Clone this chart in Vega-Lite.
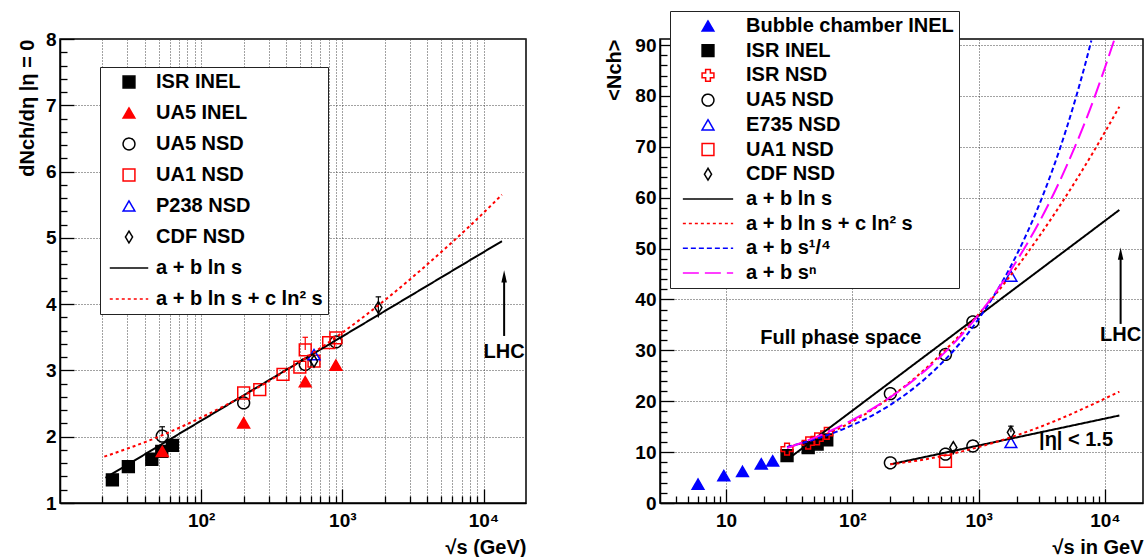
{
  "$schema": "https://vega.github.io/schema/vega-lite/v6.json",
  "padding": {"left": 16, "top": 9, "right": 2, "bottom": 2},
  "config": {
    "font": "Liberation Sans",
    "view": {"stroke": "#000", "strokeWidth": 1.5},
    "axis": {
      "domainColor": "#000", "domainWidth": 1.5,
      "tickColor": "#000", "tickWidth": 1.3,
      "labelFont": "Liberation Sans", "labelFontSize": 19, "labelFontWeight": "bold", "labelColor": "#000",
      "titleFont": "Liberation Sans", "titleFontSize": 20, "titleFontWeight": "bold", "titleColor": "#000",
      "gridColor": "#444", "gridDash": [1, 2], "gridWidth": 1,
      "labelOverlap": false, "labelFlush": false, "labelBound": false
    },
    "text": {"font": "Liberation Sans"}
  },
  "datasets": {
    "ptsL": [
      {"x": 23.5, "y": 1.35, "series": "ISR INEL"},
      {"x": 30.5, "y": 1.55, "series": "ISR INEL"},
      {"x": 44.7, "y": 1.66, "series": "ISR INEL"},
      {"x": 52.6, "y": 1.78, "series": "ISR INEL"},
      {"x": 62.5, "y": 1.87, "series": "ISR INEL"},
      {"x": 53, "y": 2.01, "series": "UA5 NSD"},
      {"x": 200, "y": 2.51, "series": "UA5 NSD"},
      {"x": 546, "y": 3.09, "series": "UA5 NSD"},
      {"x": 900, "y": 3.43, "series": "UA5 NSD"},
      {"x": 200, "y": 2.66, "series": "UA1 NSD"},
      {"x": 260, "y": 2.71, "series": "UA1 NSD"},
      {"x": 380, "y": 2.94, "series": "UA1 NSD"},
      {"x": 500, "y": 3.05, "series": "UA1 NSD"},
      {"x": 546, "y": 3.31, "series": "UA1 NSD"},
      {"x": 630, "y": 3.14, "series": "UA1 NSD"},
      {"x": 800, "y": 3.42, "series": "UA1 NSD"},
      {"x": 900, "y": 3.49, "series": "UA1 NSD"},
      {"x": 630, "y": 3.24, "series": "P238 NSD"},
      {"x": 630, "y": 3.14, "series": "CDF NSD"},
      {"x": 1800, "y": 3.95, "series": "CDF NSD"},
      {"x": 53, "y": 1.78, "series": "UA5 INEL"},
      {"x": 200, "y": 2.21, "series": "UA5 INEL"},
      {"x": 546, "y": 2.83, "series": "UA5 INEL"},
      {"x": 900, "y": 3.08, "series": "UA5 INEL"}
    ],
    "errL": [
      {"x": 53, "y": 2.01, "y2": 2.15, "series": "UA5 NSD"},
      {"x": 546, "y": 3.31, "y2": 3.5, "series": "UA1 NSD"},
      {"x": 1800, "y": 3.8, "y2": 4.11, "series": "CDF NSD"}
    ],
    "fitL": [
      {"x": 21, "y": 1.38, "series": "a + b ln s"},
      {"x": 13500, "y": 4.95, "series": "a + b ln s"},
      {"x": 20.6, "y": 1.7, "series": "a + b ln s + c ln² s"},
      {"x": 30, "y": 1.82, "series": "a + b ln s + c ln² s"},
      {"x": 50, "y": 2.0, "series": "a + b ln s + c ln² s"},
      {"x": 100, "y": 2.29, "series": "a + b ln s + c ln² s"},
      {"x": 200, "y": 2.62, "series": "a + b ln s + c ln² s"},
      {"x": 400, "y": 3.0, "series": "a + b ln s + c ln² s"},
      {"x": 1000, "y": 3.57, "series": "a + b ln s + c ln² s"},
      {"x": 2000, "y": 4.06, "series": "a + b ln s + c ln² s"},
      {"x": 4000, "y": 4.6, "series": "a + b ln s + c ln² s"},
      {"x": 8000, "y": 5.18, "series": "a + b ln s + c ln² s"},
      {"x": 13500, "y": 5.65, "series": "a + b ln s + c ln² s"}
    ],
    "annL": [
      {"x": 14000, "y": 3.52, "y2": 4.42, "ty": 3.28, "label": "LHC"}
    ],
    "ptsR": [
      {"x": 6, "y": 3.7, "series": "Bubble chamber INEL"},
      {"x": 9.6, "y": 5.4, "series": "Bubble chamber INEL"},
      {"x": 13.5, "y": 6.2, "series": "Bubble chamber INEL"},
      {"x": 19, "y": 7.7, "series": "Bubble chamber INEL"},
      {"x": 23.4, "y": 8.3, "series": "Bubble chamber INEL"},
      {"x": 30.4, "y": 9.3, "series": "ISR INEL"},
      {"x": 44.7, "y": 10.9, "series": "ISR INEL"},
      {"x": 52.6, "y": 11.6, "series": "ISR INEL"},
      {"x": 62.7, "y": 12.4, "series": "ISR INEL"},
      {"x": 30.4, "y": 10.6, "series": "ISR NSD"},
      {"x": 44.7, "y": 11.8, "series": "ISR NSD"},
      {"x": 52.6, "y": 12.6, "series": "ISR NSD"},
      {"x": 62.7, "y": 13.7, "series": "ISR NSD"},
      {"x": 200, "y": 21.5, "series": "UA5 NSD"},
      {"x": 546, "y": 29.2, "series": "UA5 NSD"},
      {"x": 900, "y": 35.6, "series": "UA5 NSD"},
      {"x": 200, "y": 7.9, "series": "UA5 NSD"},
      {"x": 546, "y": 9.6, "series": "UA5 NSD"},
      {"x": 900, "y": 11.2, "series": "UA5 NSD"},
      {"x": 1800, "y": 44.6, "series": "E735 NSD"},
      {"x": 1800, "y": 11.9, "series": "E735 NSD"},
      {"x": 546, "y": 8.2, "series": "UA1 NSD"},
      {"x": 630, "y": 10.9, "series": "CDF NSD"},
      {"x": 1800, "y": 13.9, "series": "CDF NSD"}
    ],
    "errR": [
      {"x": 1800, "y": 13.9, "y2": 15.1, "series": "CDF NSD"}
    ],
    "fitR": [
      {"x": 30.4, "y": 8.5, "series": "a + b ln s", "grp": "full"},
      {"x": 13000, "y": 57.6, "series": "a + b ln s", "grp": "full"},
      {"x": 200, "y": 7.6, "series": "a + b ln s", "grp": "eta"},
      {"x": 13000, "y": 17.2, "series": "a + b ln s", "grp": "eta"},
      {"x": 30.4, "y": 10.9, "series": "a + b ln s + c ln² s", "grp": "full"},
      {"x": 50, "y": 12.6, "series": "a + b ln s + c ln² s", "grp": "full"},
      {"x": 100, "y": 16.0, "series": "a + b ln s + c ln² s", "grp": "full"},
      {"x": 200, "y": 20.8, "series": "a + b ln s + c ln² s", "grp": "full"},
      {"x": 400, "y": 26.9, "series": "a + b ln s + c ln² s", "grp": "full"},
      {"x": 1000, "y": 37.1, "series": "a + b ln s + c ln² s", "grp": "full"},
      {"x": 2000, "y": 46.3, "series": "a + b ln s + c ln² s", "grp": "full"},
      {"x": 4000, "y": 56.9, "series": "a + b ln s + c ln² s", "grp": "full"},
      {"x": 8000, "y": 68.8, "series": "a + b ln s + c ln² s", "grp": "full"},
      {"x": 13000, "y": 77.9, "series": "a + b ln s + c ln² s", "grp": "full"},
      {"x": 200, "y": 7.6, "series": "a + b ln s + c ln² s", "grp": "eta"},
      {"x": 400, "y": 8.7, "series": "a + b ln s + c ln² s", "grp": "eta"},
      {"x": 1000, "y": 11.0, "series": "a + b ln s + c ln² s", "grp": "eta"},
      {"x": 2000, "y": 13.3, "series": "a + b ln s + c ln² s", "grp": "eta"},
      {"x": 4000, "y": 16.1, "series": "a + b ln s + c ln² s", "grp": "eta"},
      {"x": 8000, "y": 19.4, "series": "a + b ln s + c ln² s", "grp": "eta"},
      {"x": 13000, "y": 21.9, "series": "a + b ln s + c ln² s", "grp": "eta"},
      {"x": 30.4, "y": 11.0, "series": "a + b s¹/⁴", "grp": "full"},
      {"x": 50, "y": 12.5, "series": "a + b s¹/⁴", "grp": "full"},
      {"x": 100, "y": 15.3, "series": "a + b s¹/⁴", "grp": "full"},
      {"x": 200, "y": 19.3, "series": "a + b s¹/⁴", "grp": "full"},
      {"x": 400, "y": 25.0, "series": "a + b s¹/⁴", "grp": "full"},
      {"x": 700, "y": 31.2, "series": "a + b s¹/⁴", "grp": "full"},
      {"x": 1000, "y": 36.2, "series": "a + b s¹/⁴", "grp": "full"},
      {"x": 2000, "y": 48.8, "series": "a + b s¹/⁴", "grp": "full"},
      {"x": 3000, "y": 58.5, "series": "a + b s¹/⁴", "grp": "full"},
      {"x": 5000, "y": 73.9, "series": "a + b s¹/⁴", "grp": "full"},
      {"x": 7000, "y": 86.4, "series": "a + b s¹/⁴", "grp": "full"},
      {"x": 7800, "y": 90.9, "series": "a + b s¹/⁴", "grp": "full"},
      {"x": 30.4, "y": 10.8, "series": "a + b sⁿ", "grp": "full"},
      {"x": 50, "y": 12.8, "series": "a + b sⁿ", "grp": "full"},
      {"x": 100, "y": 16.3, "series": "a + b sⁿ", "grp": "full"},
      {"x": 200, "y": 20.8, "series": "a + b sⁿ", "grp": "full"},
      {"x": 400, "y": 26.6, "series": "a + b sⁿ", "grp": "full"},
      {"x": 700, "y": 32.5, "series": "a + b sⁿ", "grp": "full"},
      {"x": 1000, "y": 37.0, "series": "a + b sⁿ", "grp": "full"},
      {"x": 2000, "y": 47.6, "series": "a + b sⁿ", "grp": "full"},
      {"x": 3000, "y": 55.1, "series": "a + b sⁿ", "grp": "full"},
      {"x": 5000, "y": 66.4, "series": "a + b sⁿ", "grp": "full"},
      {"x": 8000, "y": 78.8, "series": "a + b sⁿ", "grp": "full"},
      {"x": 10000, "y": 85.6, "series": "a + b sⁿ", "grp": "full"},
      {"x": 11800, "y": 90.9, "series": "a + b sⁿ", "grp": "full"}
    ],
    "annR": [
      {"x": 13300, "y": 35.2, "y2": 49.0, "ty": 33.1, "label": "LHC"}
    ],
    "txtR": [
      {"x": 81, "y": 32.4, "label": "Full phase space"},
      {"x": 5900, "y": 12.3, "label": "|η| < 1.5"}
    ]
  },
  "hconcat": [
    {
      "width": 466,
      "height": 464,
      "encoding": {
        "x": {
          "field": "x", "type": "quantitative",
          "scale": {"type": "log", "domain": [10, 20000], "nice": false},
          "axis": {
            "title": "√s (GeV)", "titleAnchor": "end", "titlePadding": 0,
            "values": [20, 30, 40, 50, 60, 70, 80, 90, 100, 200, 300, 400, 500, 600, 700, 800, 900, 1000, 2000, 3000, 4000, 5000, 6000, 7000, 8000, 9000, 10000],
            "labelExpr": "datum.value == 100 ? '10²' : datum.value == 1000 ? '10³' : datum.value == 10000 ? '10⁴' : ''",
            "grid": true,
            "tickSize": {"condition": {"test": "datum.value == 100 || datum.value == 1000 || datum.value == 10000", "value": -14}, "value": -7},
            "labelPadding": 22
          }
        },
        "y": {
          "field": "y", "type": "quantitative",
          "scale": {"domain": [1, 8], "nice": false, "zero": false},
          "axis": {
            "title": "dNch/dη |η = 0", "titleAnchor": "end", "titlePadding": 8,
            "values": [1, 1.2, 1.4, 1.6, 1.8, 2, 2.2, 2.4, 2.6, 2.8, 3, 3.2, 3.4, 3.6, 3.8, 4, 4.2, 4.4, 4.6, 4.8, 5, 5.2, 5.4, 5.6, 5.8, 6, 6.2, 6.4, 6.6, 6.8, 7, 7.2, 7.4, 7.6, 7.8, 8],
            "labelExpr": "datum.value == round(datum.value) ? format(datum.value, 'd') : ''",
            "grid": true,
            "gridOpacity": {"condition": {"test": "datum.value == round(datum.value)", "value": 1}, "value": 0},
            "tickSize": {"condition": {"test": "datum.value == round(datum.value)", "value": -14}, "value": -7},
            "labelPadding": 18
          }
        }
      },
      "layer": [
        {
          "data": {"name": "ptsL"},
          "mark": {"type": "point", "size": 140, "strokeWidth": 1.5, "opacity": 1},
          "encoding": {
            "shape": {"field": "series", "type": "nominal",
              "scale": {"domain": ["ISR INEL", "UA5 INEL", "UA5 NSD", "UA1 NSD", "P238 NSD", "CDF NSD", "a + b ln s", "a + b ln s + c ln² s"],
                "range": ["square", "triangle-up", "circle", "square", "triangle-up", "M0,-1L0.6,0L0,1L-0.6,0Z", "M-3.25,0H3.25", "M-3.25,0H3.25"]},
              "legend": {"orient": "none", "legendX": 40, "legendY": 28, "title": null, "padding": 5, "rowPadding": 11, "symbolSize": 140, "symbolStrokeWidth": 1.5, "symbolOffset": 14, "labelOffset": 17, "labelFont": "Liberation Sans", "labelFontSize": 20, "labelFontWeight": "bold", "labelColor": "#000", "labelLimit": 500, "strokeColor": "#222", "fillColor": "#fff"}},
            "fill": {"field": "series", "type": "nominal",
              "scale": {"domain": ["ISR INEL", "UA5 INEL", "UA5 NSD", "UA1 NSD", "P238 NSD", "CDF NSD", "a + b ln s", "a + b ln s + c ln² s"],
                "range": ["#000000", "#ff0000", "transparent", "transparent", "transparent", "transparent", "transparent", "transparent"]},
              "legend": {"orient": "none", "legendX": 40, "legendY": 28, "title": null, "padding": 5, "rowPadding": 11, "symbolSize": 140, "symbolStrokeWidth": 1.5, "symbolOffset": 14, "labelOffset": 17, "labelFont": "Liberation Sans", "labelFontSize": 20, "labelFontWeight": "bold", "labelColor": "#000", "labelLimit": 500, "strokeColor": "#222", "fillColor": "#fff"}},
            "stroke": {"field": "series", "type": "nominal",
              "scale": {"domain": ["ISR INEL", "UA5 INEL", "UA5 NSD", "UA1 NSD", "P238 NSD", "CDF NSD", "a + b ln s", "a + b ln s + c ln² s"],
                "range": ["#000000", "#ff0000", "#000000", "#ff0000", "#0000ff", "#000000", "#000000", "#ff0000"]},
              "legend": {"orient": "none", "legendX": 40, "legendY": 28, "title": null, "padding": 5, "rowPadding": 11, "symbolSize": 140, "symbolStrokeWidth": 1.5, "symbolOffset": 14, "labelOffset": 17, "labelFont": "Liberation Sans", "labelFontSize": 20, "labelFontWeight": "bold", "labelColor": "#000", "labelLimit": 500, "strokeColor": "#222", "fillColor": "#fff"}},
            "strokeDash": {"field": "series", "type": "nominal",
              "scale": {"domain": ["ISR INEL", "UA5 INEL", "UA5 NSD", "UA1 NSD", "P238 NSD", "CDF NSD", "a + b ln s", "a + b ln s + c ln² s"],
                "range": [[1, 0], [1, 0], [1, 0], [1, 0], [1, 0], [1, 0], [1, 0], [3, 3]]},
              "legend": {"orient": "none", "legendX": 40, "legendY": 28, "title": null, "padding": 5, "rowPadding": 11, "symbolSize": 140, "symbolStrokeWidth": 1.5, "symbolOffset": 14, "labelOffset": 17, "labelFont": "Liberation Sans", "labelFontSize": 20, "labelFontWeight": "bold", "labelColor": "#000", "labelLimit": 500, "strokeColor": "#222", "fillColor": "#fff"}}
          }
        },
        {
          "data": {"name": "errL"},
          "mark": {"type": "rule", "strokeWidth": 1.2},
          "encoding": {
            "y2": {"field": "y2"},
            "stroke": {"field": "series", "type": "nominal", "legend": null}
          }
        },
        {
          "data": {"name": "errL"},
          "mark": {"type": "point", "shape": "M-1,0H1", "size": 30, "strokeWidth": 1.2, "opacity": 1},
          "encoding": {
            "y": {"field": "y2", "type": "quantitative"},
            "stroke": {"field": "series", "type": "nominal", "legend": null}
          }
        },
        {
          "data": {"name": "fitL"},
          "mark": {"type": "line", "strokeWidth": 2, "interpolate": "monotone"},
          "encoding": {
            "stroke": {"field": "series", "type": "nominal", "legend": null},
            "strokeDash": {"field": "series", "type": "nominal", "legend": null}
          }
        },
        {
          "data": {"name": "annL"},
          "mark": {"type": "rule", "strokeWidth": 2, "color": "#000"},
          "encoding": {"y2": {"field": "y2"}}
        },
        {
          "data": {"name": "annL"},
          "mark": {"type": "point", "shape": "M0,-1L0.45,1L-0.45,1Z", "size": 150, "filled": true, "color": "#000", "opacity": 1},
          "encoding": {"y": {"field": "y2", "type": "quantitative"}}
        },
        {
          "data": {"name": "annL"},
          "mark": {"type": "text", "fontSize": 20, "fontWeight": "bold", "color": "#000", "align": "center", "baseline": "middle"},
          "encoding": {"y": {"field": "ty", "type": "quantitative"}, "text": {"field": "label"}}
        }
      ]
    },
    {
      "width": 483,
      "height": 464,
      "encoding": {
        "x": {
          "field": "x", "type": "quantitative",
          "scale": {"type": "log", "domain": [3, 20000], "nice": false},
          "axis": {
            "title": "√s in GeV", "titleAnchor": "end", "titlePadding": 0,
            "values": [4, 5, 6, 7, 8, 9, 10, 20, 30, 40, 50, 60, 70, 80, 90, 100, 200, 300, 400, 500, 600, 700, 800, 900, 1000, 2000, 3000, 4000, 5000, 6000, 7000, 8000, 9000, 10000],
            "labelExpr": "datum.value == 10 ? '10' : datum.value == 100 ? '10²' : datum.value == 1000 ? '10³' : datum.value == 10000 ? '10⁴' : ''",
            "grid": true,
            "gridOpacity": {"condition": {"test": "datum.value == 10 || datum.value == 100 || datum.value == 1000 || datum.value == 10000", "value": 1}, "value": 0},
            "tickSize": {"condition": {"test": "datum.value == 10 || datum.value == 100 || datum.value == 1000 || datum.value == 10000", "value": -14}, "value": -7},
            "labelPadding": 22
          }
        },
        "y": {
          "field": "y", "type": "quantitative",
          "scale": {"domain": [0, 91.2], "nice": false},
          "axis": {
            "title": "<Nch>", "titleAnchor": "end", "titlePadding": 10,
            "values": [0, 2, 4, 6, 8, 10, 12, 14, 16, 18, 20, 22, 24, 26, 28, 30, 32, 34, 36, 38, 40, 42, 44, 46, 48, 50, 52, 54, 56, 58, 60, 62, 64, 66, 68, 70, 72, 74, 76, 78, 80, 82, 84, 86, 88, 90],
            "labelExpr": "datum.value % 10 == 0 ? format(datum.value, 'd') : ''",
            "grid": true,
            "gridOpacity": {"condition": {"test": "datum.value % 10 == 0", "value": 1}, "value": 0},
            "tickSize": {"condition": {"test": "datum.value % 10 == 0", "value": -14}, "value": -7},
            "labelPadding": 18
          }
        }
      },
      "layer": [
        {
          "data": {"name": "ptsR"},
          "mark": {"type": "point", "size": 140, "strokeWidth": 1.5, "opacity": 1},
          "encoding": {
            "shape": {"field": "series", "type": "nominal",
              "scale": {"domain": ["Bubble chamber INEL", "ISR INEL", "ISR NSD", "UA5 NSD", "E735 NSD", "UA1 NSD", "CDF NSD", "a + b ln s", "a + b ln s + c ln² s", "a + b s¹/⁴", "a + b sⁿ"],
                "range": ["triangle-up", "square", "cross", "circle", "triangle-up", "square", "M0,-1L0.6,0L0,1L-0.6,0Z", "M-4.25,0H4.25", "M-4.25,0H4.25", "M-4.25,0H4.25", "M-4.25,0H4.25"]},
              "legend": {"orient": "none", "legendX": 10, "legendY": -28, "title": null, "padding": 5, "rowPadding": 4.7, "symbolSize": 140, "symbolStrokeWidth": 1.5, "symbolOffset": 23, "labelOffset": 28, "labelFont": "Liberation Sans", "labelFontSize": 20, "labelFontWeight": "bold", "labelColor": "#000", "labelLimit": 500, "strokeColor": "#222", "fillColor": "#fff"}},
            "fill": {"field": "series", "type": "nominal",
              "scale": {"domain": ["Bubble chamber INEL", "ISR INEL", "ISR NSD", "UA5 NSD", "E735 NSD", "UA1 NSD", "CDF NSD", "a + b ln s", "a + b ln s + c ln² s", "a + b s¹/⁴", "a + b sⁿ"],
                "range": ["#0000ff", "#000000", "transparent", "transparent", "transparent", "transparent", "transparent", "transparent", "transparent", "transparent", "transparent"]},
              "legend": {"orient": "none", "legendX": 10, "legendY": -28, "title": null, "padding": 5, "rowPadding": 4.7, "symbolSize": 140, "symbolStrokeWidth": 1.5, "symbolOffset": 23, "labelOffset": 28, "labelFont": "Liberation Sans", "labelFontSize": 20, "labelFontWeight": "bold", "labelColor": "#000", "labelLimit": 500, "strokeColor": "#222", "fillColor": "#fff"}},
            "stroke": {"field": "series", "type": "nominal",
              "scale": {"domain": ["Bubble chamber INEL", "ISR INEL", "ISR NSD", "UA5 NSD", "E735 NSD", "UA1 NSD", "CDF NSD", "a + b ln s", "a + b ln s + c ln² s", "a + b s¹/⁴", "a + b sⁿ"],
                "range": ["#0000ff", "#000000", "#ff0000", "#000000", "#0000ff", "#ff0000", "#000000", "#000000", "#ff0000", "#0000ff", "#ff00ff"]},
              "legend": {"orient": "none", "legendX": 10, "legendY": -28, "title": null, "padding": 5, "rowPadding": 4.7, "symbolSize": 140, "symbolStrokeWidth": 1.5, "symbolOffset": 23, "labelOffset": 28, "labelFont": "Liberation Sans", "labelFontSize": 20, "labelFontWeight": "bold", "labelColor": "#000", "labelLimit": 500, "strokeColor": "#222", "fillColor": "#fff"}},
            "strokeDash": {"field": "series", "type": "nominal",
              "scale": {"domain": ["Bubble chamber INEL", "ISR INEL", "ISR NSD", "UA5 NSD", "E735 NSD", "UA1 NSD", "CDF NSD", "a + b ln s", "a + b ln s + c ln² s", "a + b s¹/⁴", "a + b sⁿ"],
                "range": [[1, 0], [1, 0], [1, 0], [1, 0], [1, 0], [1, 0], [1, 0], [1, 0], [3, 3], [5, 3], [16, 6]]},
              "legend": {"orient": "none", "legendX": 10, "legendY": -28, "title": null, "padding": 5, "rowPadding": 4.7, "symbolSize": 140, "symbolStrokeWidth": 1.5, "symbolOffset": 23, "labelOffset": 28, "labelFont": "Liberation Sans", "labelFontSize": 20, "labelFontWeight": "bold", "labelColor": "#000", "labelLimit": 500, "strokeColor": "#222", "fillColor": "#fff"}}
          }
        },
        {
          "data": {"name": "errR"},
          "mark": {"type": "rule", "strokeWidth": 1.2},
          "encoding": {
            "y2": {"field": "y2"},
            "stroke": {"field": "series", "type": "nominal", "legend": null}
          }
        },
        {
          "data": {"name": "errR"},
          "mark": {"type": "point", "shape": "M-1,0H1", "size": 30, "strokeWidth": 1.2, "opacity": 1},
          "encoding": {
            "y": {"field": "y2", "type": "quantitative"},
            "stroke": {"field": "series", "type": "nominal", "legend": null}
          }
        },
        {
          "data": {"name": "fitR"},
          "mark": {"type": "line", "strokeWidth": 2, "interpolate": "monotone"},
          "encoding": {
            "detail": {"field": "grp", "type": "nominal"},
            "stroke": {"field": "series", "type": "nominal", "legend": null},
            "strokeDash": {"field": "series", "type": "nominal", "legend": null}
          }
        },
        {
          "data": {"name": "annR"},
          "mark": {"type": "rule", "strokeWidth": 2, "color": "#000"},
          "encoding": {"y2": {"field": "y2"}}
        },
        {
          "data": {"name": "annR"},
          "mark": {"type": "point", "shape": "M0,-1L0.45,1L-0.45,1Z", "size": 150, "filled": true, "color": "#000", "opacity": 1},
          "encoding": {"y": {"field": "y2", "type": "quantitative"}}
        },
        {
          "data": {"name": "annR"},
          "mark": {"type": "text", "fontSize": 20, "fontWeight": "bold", "color": "#000", "align": "center", "baseline": "middle"},
          "encoding": {"y": {"field": "ty", "type": "quantitative"}, "text": {"field": "label"}}
        },
        {
          "data": {"name": "txtR"},
          "mark": {"type": "text", "fontSize": 20, "fontWeight": "bold", "color": "#000", "align": "center", "baseline": "middle"},
          "encoding": {"text": {"field": "label"}}
        }
      ]
    }
  ],
  "spacing": 134,
  "bounds": "flush",
  "resolve": {
    "scale": {"shape": "independent", "fill": "independent", "stroke": "independent", "strokeDash": "independent"},
    "legend": {"shape": "independent", "fill": "independent", "stroke": "independent", "strokeDash": "independent"}
  }
}
